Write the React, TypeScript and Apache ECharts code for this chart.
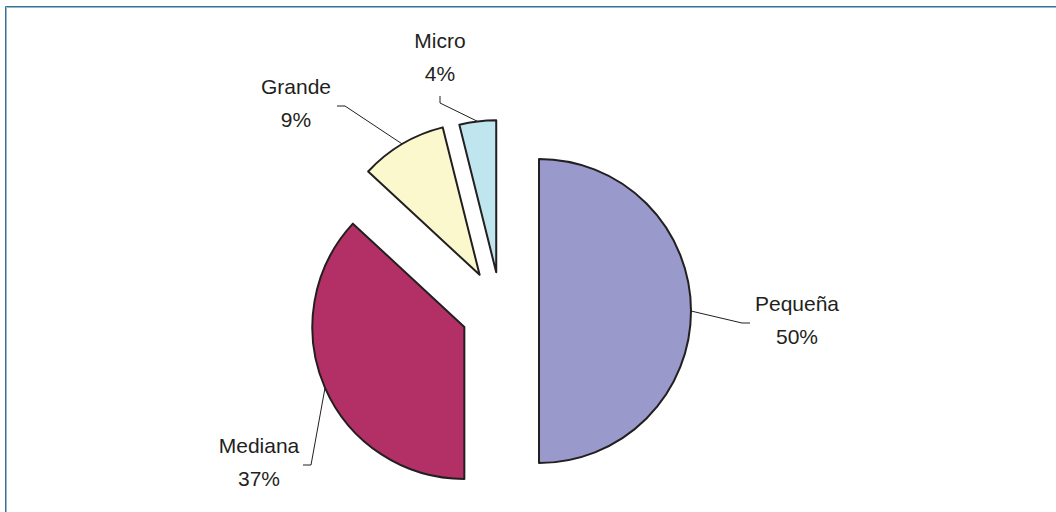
import React, { useEffect, useRef } from "react";
import * as echarts from "echarts";

const categories = ["Pequeña", "Mediana", "Grande", "Micro"];
const shares = [50, 36.9, 9.2, 3.9];
const colors = ["#9999cc", "#b33066", "#fcf8cd", "#bfe5ef"];

// styling / layout (not data)
const pieCenter = [501, 311];
const pieRadius = 152;
const explode = [38, 40, 42, 39];
const labelPlaces = [
  { x: 797, y: 320, bend: [742, 323], end: [750, 323] },
  { x: 259, y: 462, bend: [311, 465], end: [303, 465] },
  { x: 296, y: 103, bend: [345, 106], end: [337, 106] },
  { x: 440, y: 57, bend: [440, 103], end: [440, 96] },
];

export default function App() {
  const ref = useRef<HTMLDivElement>(null);
  useEffect(() => {
    if (!ref.current) return;
    const chart = echarts.init(ref.current, undefined, { renderer: "svg" });
    const total = shares.reduce((a, b) => a + b, 0);
    let cum = 0;
    const mids = shares.map((v) => {
      const m = ((cum + v / 2) / total) * 2 * Math.PI;
      cum += v;
      return m;
    });

    const series = categories.map((_, s) => ({
      type: "pie",
      center: [
        pieCenter[0] + explode[s] * Math.sin(mids[s]),
        pieCenter[1] - explode[s] * Math.cos(mids[s]),
      ],
      radius: pieRadius,
      startAngle: 90,
      clockwise: true,
      silent: true,
      avoidLabelOverlap: false,
      emphasis: { disabled: true },
      z: s === 0 ? 3 : 2,
      label: {
        show: true,
        position: "outside",
        formatter: (p: any) => `${p.name}\n${Math.round(p.percent)}%`,
        fontFamily: "Liberation Sans, Arial, sans-serif",
        fontSize: 21,
        lineHeight: 33,
        color: "#231f20",
        align: "center",
      },
      labelLine: {
        show: true,
        lineStyle: { color: "#231f20", width: 1 },
      },
      labelLayout: (params: any) => {
        if (params.dataIndex !== s) return {};
        const p = labelPlaces[s];
        const anchor = params.labelLinePoints
          ? params.labelLinePoints[0]
          : [p.bend[0], p.bend[1]];
        return {
          x: p.x,
          y: p.y,
          align: "center",
          verticalAlign: "middle",
          labelLinePoints: [anchor, p.bend, p.end],
        };
      },
      data: categories.map((name, i) =>
        i === s
          ? {
              name,
              value: shares[i],
              itemStyle: {
                color: colors[i],
                borderColor: "#231f20",
                borderWidth: 2,
              },
            }
          : {
              name,
              value: shares[i],
              itemStyle: { color: "rgba(0,0,0,0)", borderWidth: 0 },
              label: { show: false },
              labelLine: { show: false },
            }
      ),
    }));

    chart.setOption({
      animation: false,
      backgroundColor: "#ffffff",
      tooltip: { show: false },
      graphic: [
        {
          type: "rect",
          shape: { x: 5.5, y: 6.5, width: 1100, height: 600 },
          style: { fill: "none", stroke: "#3d7090", lineWidth: 1 },
          silent: true,
        },
        {
          type: "rect",
          shape: { x: 6.5, y: 7.5, width: 1100, height: 600 },
          style: { fill: "none", stroke: "#8fbad2", lineWidth: 1 },
          silent: true,
        },
      ],
      series,
    });
    return () => chart.dispose();
  }, []);
  return (
    <div
      ref={ref}
      style={{ position: "absolute", left: 0, top: 0, width: 1056, height: 512 }}
    />
  );
}
